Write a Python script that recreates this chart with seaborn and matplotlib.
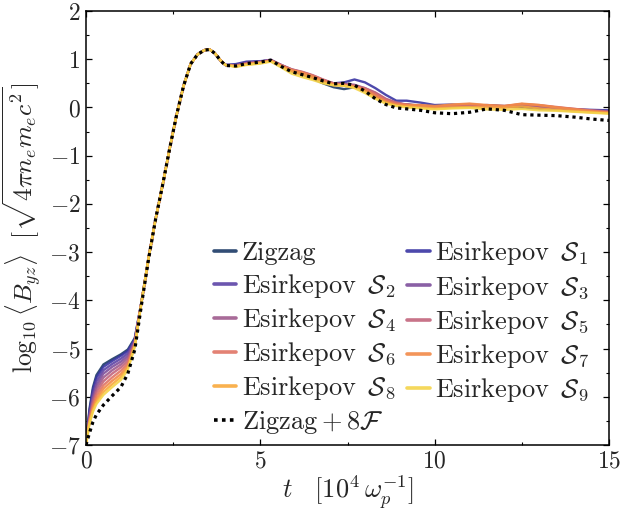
import numpy as np
import pandas as pd
import matplotlib
matplotlib.use("Agg")
import matplotlib.pyplot as plt
import seaborn as sns
from matplotlib.ticker import MultipleLocator

sns.set_theme(style="ticks")
plt.rcParams['font.family'] = 'serif'
plt.rcParams['font.serif'] = ['cmr10']
plt.rcParams['mathtext.fontset'] = 'cm'
plt.rcParams['axes.formatter.use_mathtext'] = True
plt.rcParams['axes.unicode_minus'] = True

# ---- data ----
t = [0, 0.1, 0.2, 0.3, 0.5, 0.75, 1.0, 1.2, 1.4,
     1.6, 1.8, 2.0, 2.2, 2.4, 2.6, 2.8, 3.0, 3.2, 3.4, 3.55, 3.7, 3.85, 4.0,
     4.3, 4.6, 5.0, 5.3, 5.6, 5.9, 6.2, 6.5, 6.8, 7.1, 7.4, 7.7, 8.0, 8.3, 8.6,
     8.9, 9.2, 9.6, 10.0, 10.5, 11.0, 11.5, 12.0, 12.5, 13.0, 13.5, 14.0, 14.5, 15.0]

# common growth phase (t = 1.6 ... 4.0)
rise = [-4.0, -3.1, -2.3, -1.6, -0.85, -0.15, 0.45, 0.9, 1.1, 1.19, 1.2, 1.12, 0.98, 0.88]
rise_filtered = [-4.05, -3.12, -2.3, -1.6, -0.85, -0.15, 0.45, 0.9, 1.1, 1.19, 1.2, 1.12, 0.98, 0.87]

zigzag_early = [-6.95, -6.25, -5.8, -5.55, -5.33, -5.22, -5.12, -5.02, -4.78]
s1_early = [-6.95, -6.3, -5.85, -5.6, -5.38, -5.26, -5.15, -5.05, -4.8]
s2_early = [-6.95, -6.36, -5.93, -5.68, -5.45, -5.32, -5.21, -5.1, -4.82]
s3_early = [-6.95, -6.4, -6.0, -5.76, -5.52, -5.38, -5.27, -5.15, -4.84]
s4_early = [-6.96, -6.44, -6.06, -5.83, -5.6, -5.45, -5.33, -5.2, -4.86]
s5_early = [-6.97, -6.47, -6.12, -5.9, -5.68, -5.52, -5.39, -5.26, -4.88]
s6_early = [-6.98, -6.5, -6.18, -5.97, -5.76, -5.6, -5.46, -5.31, -4.9]
s7_early = [-6.99, -6.52, -6.23, -6.04, -5.83, -5.67, -5.53, -5.36, -4.92]
s8_early = [-7.0, -6.54, -6.27, -6.1, -5.9, -5.74, -5.59, -5.4, -4.94]
s9_early = [-7.0, -6.56, -6.31, -6.15, -5.96, -5.8, -5.65, -5.44, -4.96]
filt_early = [-7.0, -6.75, -6.52, -6.37, -6.17, -5.98, -5.8, -5.52, -5.02]

zigzag_late = [0.88, 0.93, 0.95, 0.97, 0.85, 0.75, 0.69, 0.6, 0.5, 0.42, 0.38, 0.42, 0.38, 0.25, 0.12,
               0.06, 0.06, 0.03, 0.02, 0.02, 0.03, 0.04, 0.02, 0.0, -0.03, -0.05, -0.07, -0.08, -0.1]
s1_late = [0.9, 0.95, 0.96, 0.98, 0.86, 0.76, 0.7, 0.62, 0.55, 0.5, 0.52, 0.58, 0.52, 0.4, 0.26,
           0.14, 0.14, 0.1, 0.05, 0.06, 0.04, 0.04, 0.02, 0.03, -0.01, -0.03, -0.04, -0.05, -0.06]
s2_late = [0.88, 0.93, 0.95, 0.98, 0.87, 0.77, 0.71, 0.63, 0.55, 0.48, 0.47, 0.46, 0.38, 0.27, 0.15,
           0.08, 0.06, 0.04, 0.02, 0.03, 0.03, 0.05, 0.03, 0.04, 0.0, -0.02, -0.05, -0.07, -0.09]
s3_late = [0.87, 0.92, 0.95, 0.99, 0.88, 0.78, 0.72, 0.65, 0.56, 0.49, 0.48, 0.45, 0.38, 0.28, 0.16,
           0.09, 0.05, 0.03, 0.0, 0.02, 0.04, 0.03, 0.01, 0.05, 0.02, -0.02, -0.04, -0.06, -0.08]
s4_late = [0.87, 0.92, 0.94, 0.98, 0.88, 0.79, 0.73, 0.66, 0.57, 0.5, 0.49, 0.47, 0.4, 0.3, 0.17,
           0.1, 0.06, 0.02, 0.01, 0.03, 0.05, 0.04, 0.02, 0.06, 0.03, -0.01, -0.04, -0.07, -0.1]
s5_late = [0.86, 0.91, 0.94, 0.98, 0.88, 0.79, 0.74, 0.67, 0.58, 0.5, 0.48, 0.45, 0.4, 0.31, 0.18,
           0.1, 0.05, 0.03, 0.0, 0.04, 0.06, 0.03, 0.02, 0.07, 0.04, 0.0, -0.03, -0.06, -0.09]
s6_late = [0.86, 0.9, 0.93, 0.97, 0.87, 0.78, 0.73, 0.66, 0.57, 0.49, 0.47, 0.44, 0.38, 0.28, 0.15,
           0.08, 0.06, 0.04, 0.01, 0.05, 0.07, 0.04, 0.03, 0.07, 0.05, 0.01, -0.03, -0.07, -0.1]
s7_late = [0.85, 0.9, 0.93, 0.97, 0.86, 0.77, 0.72, 0.64, 0.55, 0.48, 0.46, 0.43, 0.36, 0.24, 0.12,
           0.06, 0.05, 0.05, 0.03, 0.06, 0.08, 0.05, 0.03, 0.08, 0.05, 0.0, -0.04, -0.08, -0.11]
s8_late = [0.85, 0.89, 0.92, 0.96, 0.85, 0.74, 0.68, 0.6, 0.52, 0.46, 0.45, 0.42, 0.33, 0.2, 0.1,
           0.04, 0.02, 0.0, -0.02, 0.0, 0.01, 0.0, -0.01, 0.02, -0.02, -0.05, -0.08, -0.1, -0.12]
s9_late = [0.84, 0.88, 0.91, 0.95, 0.83, 0.7, 0.63, 0.57, 0.5, 0.46, 0.45, 0.4, 0.3, 0.18, 0.08,
           0.03, 0.0, -0.02, -0.04, -0.02, -0.01, -0.04, -0.05, -0.03, -0.06, -0.07, -0.09, -0.11, -0.13]
filt_late = [0.86, 0.91, 0.94, 0.98, 0.85, 0.74, 0.68, 0.62, 0.55, 0.49, 0.5, 0.46, 0.34, 0.18, 0.06,
             -0.01, -0.03, -0.06, -0.11, -0.13, -0.1, -0.03, -0.06, -0.15, -0.16, -0.17, -0.2, -0.24, -0.27]

labels = ["Zigzag"] + [r"Esirkepov $\,\mathcal{S}_{%d}$" % i for i in range(1, 10)]
colors = ["#1b3a66", "#3a35a3", "#5c44a6", "#7d4f9b", "#9f5b8d", "#c2657c",
          "#e07465", "#f28a48", "#f9a93c", "#f4d44a"]
early = [zigzag_early, s1_early, s2_early, s3_early, s4_early, s5_early,
         s6_early, s7_early, s8_early, s9_early]
late = [zigzag_late, s1_late, s2_late, s3_late, s4_late, s5_late,
        s6_late, s7_late, s8_late, s9_late]

# ---- figure ----
fig = plt.figure(figsize=(6.21, 5.16), dpi=100)
ax = fig.add_axes([86 / 621, 71 / 516, (609 - 86) / 621, (445 - 11) / 516])

for lab, col, e, l in zip(labels, colors, early, late):
    df = pd.DataFrame({"t": t, "B": e + rise + l})
    sns.lineplot(data=df, x="t", y="B", ax=ax, color=col, lw=1.7, alpha=0.9,
                 label=lab, estimator=None, sort=False)

dff = pd.DataFrame({"t": t, "B": filt_early + rise_filtered + filt_late})
sns.lineplot(data=dff, x="t", y="B", ax=ax, color="black", lw=2.3,
             linestyle=(0, (1, 1.2)), label=r"$\mathrm{Zigzag}+8\mathcal{F}$",
             estimator=None, sort=False)

ax.set_xlim(0, 15)
ax.set_ylim(-7, 2)
ax.xaxis.set_major_locator(MultipleLocator(5))
ax.xaxis.set_minor_locator(MultipleLocator(2.5))
ax.yaxis.set_major_locator(MultipleLocator(1))
ax.yaxis.set_minor_locator(MultipleLocator(0.5))
ax.tick_params(which="both", direction="in", top=True, right=True,
               labelsize=17, color="black", pad=4)
ax.tick_params(which="major", length=4.5, width=0.9)
ax.tick_params(which="minor", length=2.5, width=0.8)
for s in ax.spines.values():
    s.set_linewidth(1.1)
    s.set_color("black")

ax.set_xlabel(r"$t\quad[10^4\,\omega_p^{-1}]$", fontsize=19, labelpad=0)
ax.set_ylabel(r"$\log_{10}\langle B_{yz}\rangle\ \ [\sqrt{4\pi n_e m_e c^2}]$",
              fontsize=18.5, labelpad=3)

# legend filled row-wise: reorder for matplotlib's column-wise filling
handles, labs = ax.get_legend_handles_labels()
order = [0, 2, 4, 6, 8, 10, 1, 3, 5, 7, 9]
leg = ax.legend([handles[i] for i in order], [labs[i] for i in order],
                loc="lower right", bbox_to_anchor=(0.98, 0.0), ncol=2, frameon=False,
                fontsize=19, handlelength=0.85, handletextpad=0.2,
                columnspacing=0.46, labelspacing=0.24, borderaxespad=0.25,
                borderpad=0.1)
for h in leg.get_lines():
    h.set_linewidth(2.6)

fig.savefig("out.png", dpi=100)
